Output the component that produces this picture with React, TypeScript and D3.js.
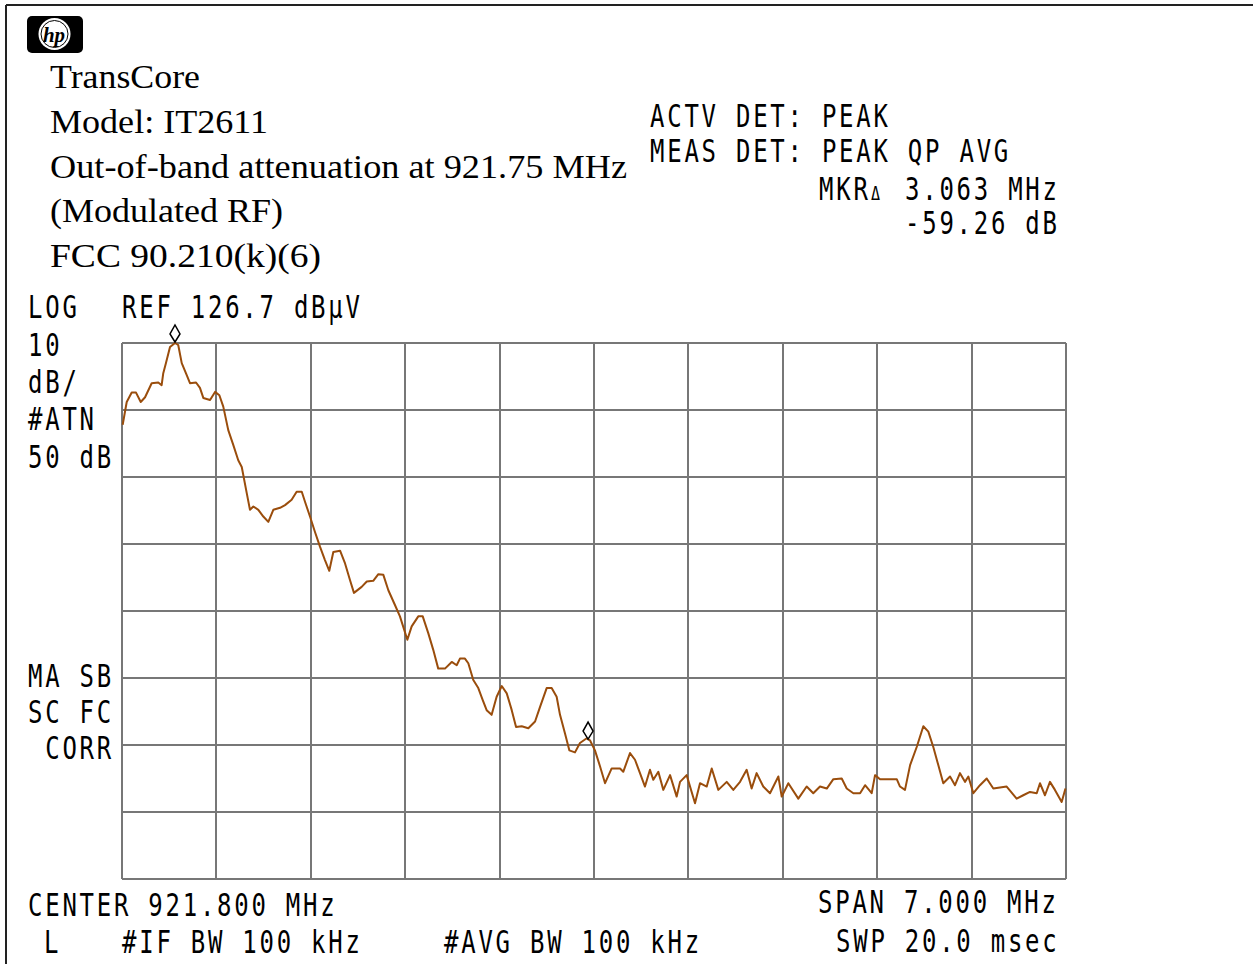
import React from 'react';
import * as d3 from 'd3';

// ---- Instrument settings (data) ----
const startMHz = 918.3;
const stopMHz = 925.3;
const refLevelDBuV = 126.7;
const dbPerDiv = 10;
const divisionsX = 10;
const divisionsY = 8;

// ---- Trace ----
const freqMHz = [
  918.305, 918.335, 918.372, 918.404, 918.439, 918.471, 918.520, 918.569, 918.594, 918.606,
  918.626, 918.656, 918.693, 918.717, 918.743, 918.780, 918.804, 918.849, 918.878, 918.903,
  918.953, 918.990, 919.022, 919.051, 919.088, 919.125, 919.162, 919.188, 919.225, 919.249,
  919.274, 919.311, 919.348, 919.385, 919.422, 919.472, 919.509, 919.558, 919.595, 919.633,
  919.657, 919.694, 919.731, 919.768, 919.805, 919.837, 919.867, 919.917, 919.954, 919.991,
  920.020, 920.077, 920.115, 920.163, 920.201, 920.238, 920.275, 920.324, 920.361, 920.416,
  920.448, 920.497, 920.530, 920.571, 920.608, 920.645, 920.695, 920.745, 920.782, 920.806,
  920.843, 920.868, 920.905, 920.942, 920.975, 921.004, 921.041, 921.078, 921.116, 921.153,
  921.190, 921.222, 921.264, 921.313, 921.363, 921.400, 921.449, 921.486, 921.523, 921.548,
  921.585, 921.617, 921.659, 921.696, 921.746, 921.770, 921.807, 921.845, 921.882, 921.931,
  921.993, 922.017, 922.067, 922.104, 922.141, 922.178, 922.215, 922.240, 922.277, 922.314,
  922.364, 922.413, 922.438, 922.487, 922.549, 922.586, 922.636, 922.673, 922.722, 922.784,
  922.833, 922.883, 922.932, 922.969, 923.006, 923.055, 923.105, 923.167, 923.192, 923.241,
  923.315, 923.377, 923.426, 923.476, 923.526, 923.575, 923.637, 923.674, 923.723, 923.773,
  923.810, 923.859, 923.884, 923.921, 924.045, 924.069, 924.106, 924.144, 924.193, 924.242,
  924.279, 924.316, 924.353, 924.390, 924.440, 924.477, 924.514, 924.551, 924.576, 924.613,
  924.662, 924.712, 924.761, 924.860, 924.934, 924.983, 925.033, 925.083, 925.107, 925.144,
  925.181, 925.218, 925.268, 925.296,
];
const levelDBuV = [
  114.5, 117.9, 119.3, 119.3, 117.9, 118.6, 120.7, 120.8, 120.4, 122.2,
  123.7, 126.1, 126.7, 126.4, 123.7, 121.9, 120.7, 120.8, 120.0, 118.5,
  118.2, 119.4, 118.9, 117.2, 113.7, 111.5, 109.2, 108.2, 104.3, 101.8,
  102.3, 101.8, 100.8, 100.0, 101.8, 102.1, 102.5, 103.3, 104.5, 104.5,
  103.0, 100.8, 98.5, 96.3, 94.3, 92.7, 95.5, 95.7, 93.8, 91.3,
  89.4, 90.3, 91.1, 91.2, 92.2, 92.1, 89.8, 87.6, 85.9, 82.4,
  84.4, 85.9, 85.9, 83.4, 80.9, 78.1, 78.1, 79.1, 78.6, 79.6,
  79.6, 78.9, 76.4, 75.2, 73.4, 71.9, 71.2, 73.9, 75.5, 74.4,
  71.9, 69.4, 69.5, 69.2, 70.2, 72.4, 75.2, 75.2, 73.9, 71.2,
  68.4, 65.9, 65.6, 67.0, 67.7, 67.4, 65.9, 63.5, 61.0, 63.2,
  63.2, 62.7, 65.5, 64.5, 62.5, 60.5, 63.0, 61.5, 62.7, 60.0,
  62.2, 59.0, 61.2, 62.2, 58.0, 61.0, 60.5, 63.2, 60.0, 61.2,
  60.0, 61.2, 63.0, 60.2, 62.5, 60.5, 59.5, 62.0, 59.0, 61.0,
  58.7, 60.5, 59.5, 60.5, 60.2, 61.6, 61.7, 60.2, 59.5, 59.5,
  60.7, 59.5, 62.2, 61.6, 61.6, 60.5, 60.0, 63.7, 66.4, 69.5,
  68.7, 66.4, 63.7, 61.0, 62.0, 60.7, 62.5, 61.2, 62.0, 59.5,
  60.7, 61.7, 60.2, 60.5, 58.7, 59.2, 59.7, 59.5, 61.0, 59.2,
  61.2, 60.0, 58.2, 60.2,
];

// markers: peak and delta marker (3.063 MHz, -59.26 dB)
const markerFreqMHz = [918.693, 921.756];
const markerLevelDBuV = [126.7, 67.44];

// ---- Texts ----
const headerLines = [
  'TransCore',
  'Model: IT2611',
  'Out-of-band attenuation at 921.75 MHz',
  '(Modulated RF)',
  'FCC 90.210(k)(6)',
];
const headerWidths = [150, 218, 577, 233, 271];
const leftLabels = ['10', 'dB/', '#ATN', '50 dB'];
const corrLabels = ['MA SB', 'SC FC', ' CORR'];

export default function App() {
  const W = 1253;
  const H = 964;
  const plot = { left: 122, right: 1066, top: 343, bottom: 879 };
  const bottomLevel = refLevelDBuV - dbPerDiv * divisionsY;

  const x = d3.scaleLinear().domain([startMHz, stopMHz]).range([plot.left, plot.right]);
  const y = d3.scaleLinear().domain([bottomLevel, refLevelDBuV]).range([plot.bottom, plot.top]);

  const xGrid = d3.range(divisionsX + 1).map((i) => startMHz + ((stopMHz - startMHz) * i) / divisionsX);
  const yGrid = d3.range(divisionsY + 1).map((i) => bottomLevel + dbPerDiv * i);

  const points: [number, number][] = freqMHz.map((f, i) => [f, levelDBuV[i]]);
  const line = d3
    .line<[number, number]>()
    .x((d) => x(d[0]))
    .y((d) => y(d[1]));

  const monoSize = 24;
  const pitch = 17.2;
  const Mono = ({ px, py, children, size }: any) => {
    const fs = size || monoSize;
    return (
      <text
        transform={`translate(${px},${py}) scale(1,1.33)`}
        fontFamily="'DejaVu Sans Mono', monospace"
        fontSize={fs}
        letterSpacing={size ? 0 : pitch - fs * 0.602}
        fill="#000"
        style={{ whiteSpace: 'pre' }}
      >
        {children}
      </text>
    );
  };

  const serifBaselines = [88, 133, 178, 222, 267];

  return (
    <svg
      width={W}
      height={H}
      viewBox={`0 0 ${W} ${H}`}
      style={{ position: 'absolute', left: 0, top: 0, display: 'block', background: '#fff' }}
    >
      <rect x={0} y={0} width={W} height={H} fill="#fff" />
      {/* frame */}
      <line x1={6} y1={5} x2={W} y2={5} stroke="#222" strokeWidth={2} />
      <line x1={6} y1={5} x2={6} y2={H} stroke="#222" strokeWidth={2} />

      {/* hp logo */}
      <g>
        <rect x={27} y={16} width={56} height={37} rx={5} fill="#000" />
        <circle cx={54.5} cy={34} r={16} fill="#fff" />
        <circle cx={54.5} cy={34} r={13.5} fill="none" stroke="#000" strokeWidth={1} />
        <text
          x={54}
          y={42}
          textAnchor="middle"
          fontFamily="'Liberation Serif', serif"
          fontStyle="italic"
          fontWeight="bold"
          fontSize={21}
          fill="#000"
        >
          hp
        </text>
      </g>

      {/* header serif lines */}
      {headerLines.map((t, i) => (
        <text
          key={t}
          x={50}
          y={serifBaselines[i]}
          fontFamily="'Liberation Serif', 'Times New Roman', serif"
          fontSize={34}
          textLength={headerWidths[i]}
          lengthAdjust="spacingAndGlyphs"
          fill="#000"
        >
          {t}
        </text>
      ))}

      {/* right annotation */}
      <Mono px={650} py={127}>ACTV DET: PEAK</Mono>
      <Mono px={650} py={162}>MEAS DET: PEAK QP AVG</Mono>
      <Mono px={819} py={200}>MKR</Mono>
      <Mono px={871} py={200} size={15}>Δ</Mono>
      <Mono px={905} py={200}>3.063 MHz</Mono>
      <Mono px={905} py={234}>-59.26 dB</Mono>

      {/* left annotation */}
      <Mono px={28} py={318}>LOG</Mono>
      <Mono px={122} py={318}>REF 126.7 dBμV</Mono>
      {leftLabels.map((t, i) => (
        <Mono key={t} px={28} py={356 + i * 37.2}>
          {t}
        </Mono>
      ))}
      {corrLabels.map((t, i) => (
        <Mono key={t} px={28} py={687 + i * 36}>
          {t}
        </Mono>
      ))}

      {/* grid */}
      <g stroke="#777" strokeWidth={2} shapeRendering="crispEdges">
        {xGrid.map((f, i) => (
          <line key={'vx' + i} x1={x(f)} x2={x(f)} y1={plot.top} y2={plot.bottom} />
        ))}
        {yGrid.map((l, i) => (
          <line key={'hy' + i} x1={plot.left} x2={plot.right} y1={y(l)} y2={y(l)} />
        ))}
      </g>

      {/* trace */}
      <path d={line(points) || ''} fill="none" stroke="#9a4d0c" strokeWidth={2} strokeLinejoin="round" />

      {/* markers */}
      {markerFreqMHz.map((f, i) => {
        const mx = x(f);
        const my = y(markerLevelDBuV[i]);
        return (
          <path
            key={'m' + i}
            d={`M${mx},${my - 1} L${mx - 5},${my - 9} L${mx},${my - 18} L${mx + 5},${my - 9} Z`}
            fill="#fff"
            stroke="#000"
            strokeWidth={1.5}
          />
        );
      })}

      {/* bottom annotation */}
      <Mono px={28} py={916}>CENTER 921.800 MHz</Mono>
      <Mono px={44} py={953}>L</Mono>
      <Mono px={122} py={953}>#IF BW 100 kHz</Mono>
      <Mono px={444} py={953}>#AVG BW 100 kHz</Mono>
      <Mono px={818} py={913}>SPAN 7.000 MHz</Mono>
      <Mono px={836} py={952}>SWP 20.0 msec</Mono>
    </svg>
  );
}
